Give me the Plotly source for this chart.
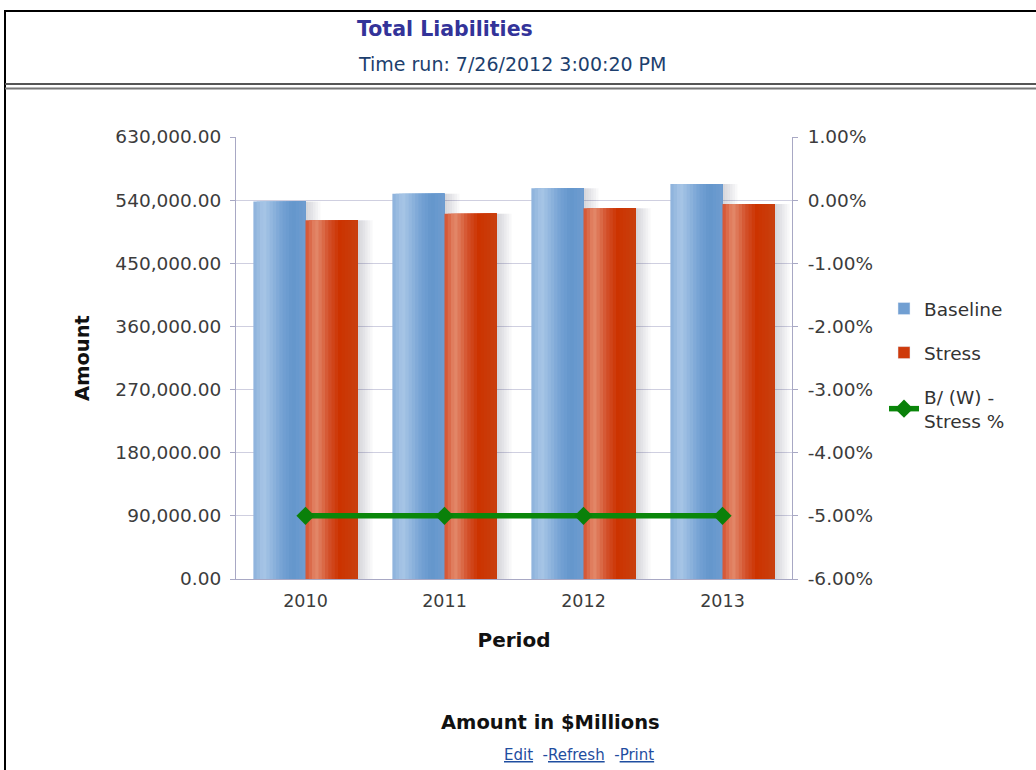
import plotly.graph_objects as go

# data
periods = ["2010", "2011", "2012", "2013"]
baseline = [538000, 549000, 557000, 563000]
stress = [511500, 520500, 528500, 534500]
bw_stress_pct = [-5.0, -5.0, -5.0, -5.0]

left_ticks = [0, 90000, 180000, 270000, 360000, 450000, 540000, 630000]
right_ticks = [1, 0, -1, -2, -3, -4, -5, -6]
right_labels = [f"{v:.2f}%" for v in right_ticks]

W, H = 1036, 770
PL, PR, PT, PB = 236, 792, 137, 579  # plot area in pixels


def px_x(px):
    return (px - PL) / (PR - PL)


def px_y(py):
    return (PB - py) / (PB - PT)


def hex_rgb(h):
    h = h.lstrip("#")
    return tuple(int(h[i:i + 2], 16) for i in (0, 2, 4))


def grad_color(stops, t):
    for (t0, c0), (t1, c1) in zip(stops, stops[1:]):
        if t0 <= t <= t1:
            f = (t - t0) / (t1 - t0) if t1 > t0 else 0
            a, b = hex_rgb(c0), hex_rgb(c1)
            r = [round(a[i] + (b[i] - a[i]) * f) for i in range(3)]
            return f"rgb({r[0]},{r[1]},{r[2]})"
    return stops[-1][1]


blue_stops = [(0, "#8cb1db"), (0.2, "#a8c6e6"), (0.55, "#75a2d4"), (0.75, "#6496cc"), (1, "#6f9dd0")]
red_stops = [(0, "#d4502e"), (0.2, "#e38a6c"), (0.45, "#d3502a"), (0.65, "#cc3300"), (1, "#c9400f")]

BAR_W = 0.375
N = 16

fig = go.Figure()


def add_shadow(values, start):
    # nested slices, each one reaching back to the bar edge, so alpha stacks up near the bar
    n = 6
    sw = 0.018
    for k in range(n):
        fig.add_trace(go.Bar(
            x=periods, y=values, offset=start, width=sw * (n - k),
            marker=dict(color="rgba(70,70,90,0.035)", line=dict(width=0)),
            showlegend=False, hoverinfo="skip",
        ))


def add_gradient_bar(values, start, stops, name):
    # each slice runs to the right edge; later slices cover earlier ones -> no seams
    sw = BAR_W / N
    for k in range(N):
        fig.add_trace(go.Bar(
            x=periods, y=values, offset=start + k * sw, width=BAR_W - k * sw,
            marker=dict(color=grad_color(stops, (k + 0.5) / N), line=dict(width=0)),
            showlegend=False, name=name, legendgroup=name,
            hovertemplate=name + " %{x}: %{y:,.2f}<extra></extra>",
        ))
    fig.add_trace(go.Bar(
        x=[None], y=[None], name=name, legendgroup=name,
        marker=dict(color=grad_color(stops, 0.6)), showlegend=True,
    ))


add_shadow(baseline, 0.0)
add_gradient_bar(baseline, -BAR_W, blue_stops, "Baseline")
add_shadow(stress, BAR_W)
add_gradient_bar(stress, 0.0, red_stops, "Stress")

fig.add_trace(go.Scatter(
    x=periods, y=bw_stress_pct, yaxis="y2", mode="lines+markers",
    name="B/ (W) -<br>Stress %", legendgroup="bw",
    line=dict(color="#0a870a", width=5.5),
    marker=dict(symbol="diamond", size=14, color="#0a800a"),
    hovertemplate="%{x}: %{y:.2f}%<extra></extra>",
))

FONT = "DejaVu Sans, Verdana, sans-serif"
tick_col = "#3c3c3c"
axis_col = "#a8a8c4"

fig.update_layout(
    width=W, height=H,
    margin=dict(l=PL, r=W - PR, t=PT, b=H - PB, autoexpand=False),
    paper_bgcolor="white", plot_bgcolor="white",
    barmode="overlay",
    font=dict(family=FONT, color=tick_col),
    xaxis=dict(
        type="category", showgrid=False, showline=True, linecolor=axis_col, linewidth=1,
        ticks="", tickfont=dict(size=17.5, color=tick_col), ticklabelstandoff=6,
        range=[-0.5, 3.5],
        title=dict(text="<b>Period</b>", font=dict(size=20, color="#111111"), standoff=22),
    ),
    yaxis=dict(
        range=[0, 630000], tickvals=left_ticks, tickformat=",.2f",
        showgrid=True, gridcolor="#cfcfe0", gridwidth=1,
        showline=True, linecolor=axis_col, linewidth=1, ticks="outside", ticklen=5,
        tickcolor=axis_col, tickfont=dict(size=18.5, color=tick_col), ticklabelstandoff=5,
        zeroline=False,
        title=dict(text="<b>Amount</b>", font=dict(size=19.5, color="#111111"), standoff=20),
    ),
    yaxis2=dict(
        overlaying="y", side="right", range=[-6, 1], tickvals=right_ticks, ticktext=right_labels,
        showgrid=False, zeroline=False,
        showline=True, linecolor=axis_col, linewidth=1, ticks="outside", ticklen=5,
        tickcolor=axis_col, tickfont=dict(size=18.5, color=tick_col), ticklabelstandoff=6,
    ),
    legend=dict(
        x=px_x(884), y=px_y(290), xanchor="left", yanchor="top",
        font=dict(size=18.5, color="#333333"), tracegroupgap=17,
        bgcolor="rgba(0,0,0,0)", traceorder="grouped", itemwidth=30,
    ),
    showlegend=True,
)

# border, header separator
shapes = [
    dict(type="line", x0=px_x(5), x1=px_x(W), y0=px_y(11), y1=px_y(11),
         line=dict(color="black", width=2)),
    dict(type="line", x0=px_x(5), x1=px_x(5), y0=px_y(10), y1=px_y(H),
         line=dict(color="black", width=2)),
    dict(type="line", x0=px_x(5), x1=px_x(W), y0=px_y(84), y1=px_y(84),
         line=dict(color="#555555", width=2)),
    dict(type="line", x0=px_x(5), x1=px_x(W), y0=px_y(88.5), y1=px_y(88.5),
         line=dict(color="#777777", width=2)),
]
for s in shapes:
    fig.add_shape(xref="paper", yref="paper", **s)

annots = [
    dict(text="<b>Total Liabilities</b>", x=px_x(355), y=px_y(29), xanchor="left", yanchor="middle",
         font=dict(size=20.5, color="#333399")),
    dict(text="Time run: 7/26/2012 3:00:20 PM", x=px_x(356), y=px_y(64), xanchor="left", yanchor="middle",
         font=dict(size=19, color="#1d3f6e")),
    dict(text="<b>Amount in $Millions</b>", x=px_x(550), y=px_y(722), xanchor="center", yanchor="middle",
         font=dict(size=19.5, color="#111111")),
    dict(text="<u>Edit</u>&nbsp; -<u>Refresh</u>&nbsp; -<u>Print</u>", x=px_x(579), y=px_y(755),
         xanchor="center", yanchor="middle", font=dict(size=15, color="#1f4ea0")),
]
for a in annots:
    fig.add_annotation(xref="paper", yref="paper", showarrow=False, **a)

fig.write_html("out.html", config={"displayModeBar": False},
               post_script="document.body.style.margin='0px';")
